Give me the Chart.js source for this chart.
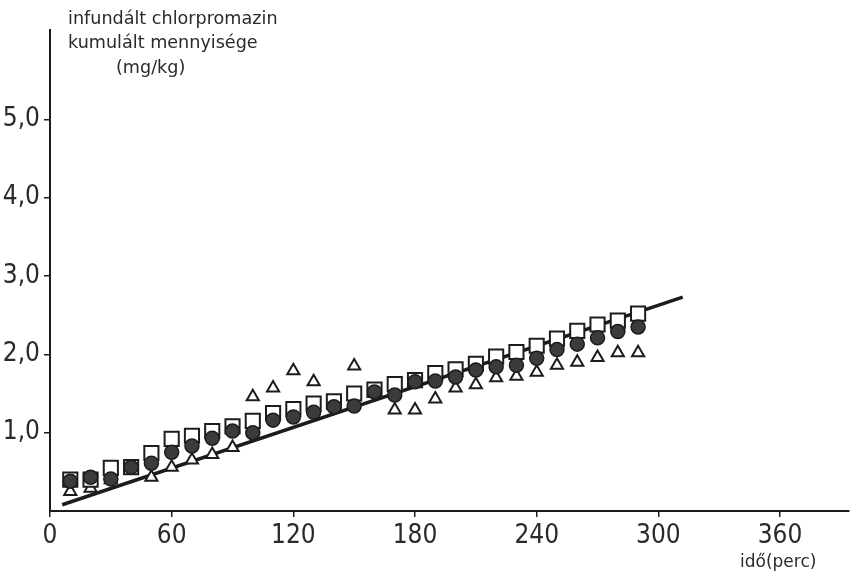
<!DOCTYPE html>
<html>
<head>
<meta charset="utf-8">
<script src="https://cdn.jsdelivr.net/npm/chart.js@4/dist/chart.umd.min.js"></script>
<style>
  html, body { margin: 0; padding: 0; background: #ffffff; }
  #wrap { width: 851px; height: 573px; position: relative; }
</style>
</head>
<body>
<div id="wrap"><canvas id="c" width="851" height="573"></canvas></div>
<script>
// Sampling times (perc)
const times = [10, 20, 30, 40, 50, 60, 70, 80, 90, 100, 110, 120, 130, 140, 150,
               160, 170, 180, 190, 200, 210, 220, 230, 240, 250, 260, 270, 280, 290];

// Cumulative infused chlorpromazine (mg/kg), three groups
const circleVals = [0.38, 0.43, 0.41, 0.56, 0.61, 0.75, 0.83, 0.93, 1.02, 1.00, 1.16, 1.20, 1.26, 1.33, 1.34,
                    1.52, 1.48, 1.65, 1.66, 1.71, 1.80, 1.84, 1.86, 1.95, 2.06, 2.13, 2.21, 2.29, 2.35];
const squareVals = [0.40, 0.40, 0.55, 0.56, 0.74, 0.92, 0.96, 1.02, 1.08, 1.15, 1.25, 1.30, 1.37, 1.40, 1.50,
                    1.55, 1.62, 1.67, 1.76, 1.81, 1.88, 1.97, 2.03, 2.11, 2.20, 2.30, 2.38, 2.43, 2.52];
const triangleVals = [0.25, 0.29, 0.40, 0.55, 0.43, 0.56, 0.65, 0.72, 0.81, 1.46, 1.57, 1.79, 1.65, 1.35, 1.85,
                      1.50, 1.29, 1.29, 1.43, 1.57, 1.61, 1.70, 1.72, 1.77, 1.86, 1.90, 1.96, 2.02, 2.02];

// Fitted straight line (start and end)
const fitX = [6, 312];
const fitY = [0.08, 2.73];

// Axis ticks
const xTicks = [0, 60, 120, 180, 240, 300, 360];
const yTicks = [1, 2, 3, 4, 5];

const ink = '#1c1c1c';
const toPts = (xs, ys) => xs.map((x, i) => ({ x: x, y: ys[i] }));

// Captions drawn onto the canvas
const captionPlugin = {
  id: 'captions',
  afterDraw(chart) {
    const ctx = chart.ctx;
    ctx.save();
    ctx.fillStyle = '#2a2a2a';
    ctx.textBaseline = 'alphabetic';
    ctx.textAlign = 'left';
    ctx.font = '17.6px "DejaVu Sans", sans-serif';
    ctx.fillText('infundált chlorpromazin', 68, 24);
    ctx.fillText('kumulált mennyisége', 68, 48);
    ctx.fillText('(mg/kg)', 116, 73);
    ctx.font = '17px "DejaVu Sans", sans-serif';
    ctx.fillText('idő(perc)', 740, 567);
    ctx.restore();
  }
};

new Chart(document.getElementById('c'), {
  type: 'scatter',
  data: {
    datasets: [
      {
        label: 'kör',
        data: toPts(times, circleVals),
        pointStyle: 'circle',
        pointRadius: 7,
        pointBackgroundColor: '#3b3b3b',
        pointBorderColor: ink,
        pointBorderWidth: 1.5,
        order: 0
      },
      {
        label: 'négyzet',
        data: toPts(times, squareVals),
        pointStyle: 'rect',
        pointRadius: 10,
        pointBackgroundColor: '#ffffff',
        pointBorderColor: ink,
        pointBorderWidth: 2,
        order: 1
      },
      {
        label: 'háromszög',
        data: toPts(times, triangleVals),
        pointStyle: 'triangle',
        pointRadius: 7,
        pointBackgroundColor: '#ffffff',
        pointBorderColor: ink,
        pointBorderWidth: 2,
        order: 2
      },
      {
        type: 'line',
        label: 'illesztés',
        data: toPts(fitX, fitY),
        borderColor: ink,
        borderWidth: 3.5,
        pointRadius: 0,
        fill: false,
        order: 3
      }
    ]
  },
  options: {
    responsive: false,
    animation: false,
    devicePixelRatio: 1,
    layout: { autoPadding: false, padding: { top: 30, right: 2, left: 0, bottom: 0 } },
    plugins: {
      legend: { display: false },
      tooltip: { enabled: false },
      title: { display: false }
    },
    scales: {
      x: {
        type: 'linear',
        min: 0,
        max: 394,
        afterBuildTicks: s => { s.ticks = xTicks.map(v => ({ value: v })); },
        afterFit: s => { s.height = 62; },
        ticks: {
          color: '#2a2a2a',
          padding: 4,
          maxRotation: 0,
          font: { family: '"Liberation Sans Narrow", "DejaVu Sans Condensed", sans-serif', size: 26 },
          callback: v => String(v)
        },
        grid: { drawOnChartArea: false, drawTicks: true, tickLength: 6, color: ink, lineWidth: 1.5 },
        border: { display: true, color: ink, width: 2 }
      },
      y: {
        type: 'linear',
        min: 0,
        max: 6.14,
        afterBuildTicks: s => { s.ticks = yTicks.map(v => ({ value: v })); },
        afterFit: s => { s.width = 50; },
        ticks: {
          color: '#2a2a2a',
          padding: 4,
          font: { family: '"Liberation Sans Narrow", "DejaVu Sans Condensed", sans-serif', size: 26 },
          callback: v => v.toFixed(1).replace('.', ',')
        },
        grid: { drawOnChartArea: false, drawTicks: true, tickLength: 6, color: ink, lineWidth: 1.5 },
        border: { display: true, color: ink, width: 2 }
      }
    }
  },
  plugins: [captionPlugin]
});
</script>
</body>
</html>
